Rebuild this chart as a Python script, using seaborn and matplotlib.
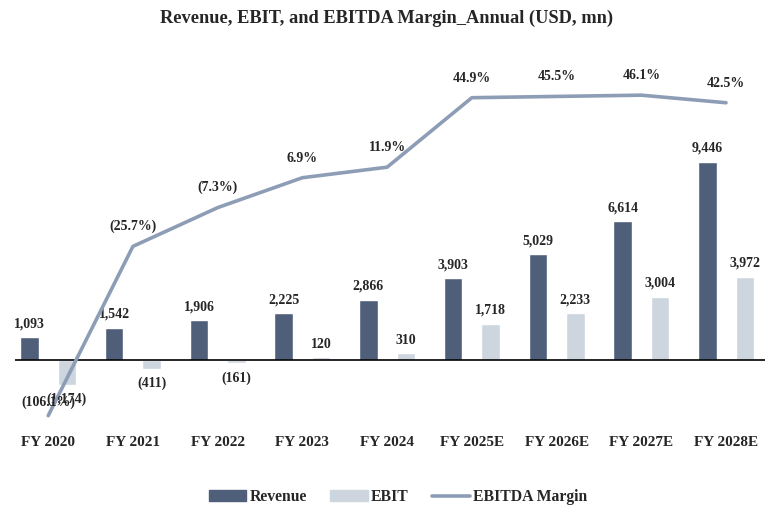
import matplotlib
matplotlib.use("Agg")
import matplotlib.pyplot as plt
import seaborn as sns
import pandas as pd
import numpy as np
from matplotlib.patches import Patch
from matplotlib.lines import Line2D

years = ["FY 2020", "FY 2021", "FY 2022", "FY 2023", "FY 2024",
         "FY 2025E", "FY 2026E", "FY 2027E", "FY 2028E"]
revenue = [1093, 1542, 1906, 2225, 2866, 3903, 5029, 6614, 9446]
ebit = [-1174, -411, -161, 120, 310, 1718, 2233, 3004, 3972]
ebitda_margin = [-106.1, -25.7, -7.3, 6.9, 11.9, 44.9, 45.5, 46.1, 42.5]

c_rev = "#4f5f79"
c_ebit = "#cdd5df"
c_line = "#8e9db6"

sns.set_theme(style="white")
plt.rcParams['font.family'] = ['Liberation Serif', 'DejaVu Serif']
plt.rcParams['font.weight'] = 'bold'

df = pd.DataFrame({
    "Year": years * 2,
    "Metric": ["Revenue"] * len(years) + ["EBIT"] * len(years),
    "Value": revenue + ebit,
})

fig = plt.figure(figsize=(7.73, 5.13), dpi=100)
W, H = 773, 513
ax = fig.add_axes([15 / W, 1 - 430 / H, 750 / W, 370 / H])

OFF = 0.221
sns.barplot(data=df, x="Year", y="Value", hue="Metric", order=years,
            hue_order=["Revenue", "EBIT"], palette=[c_rev, c_ebit],
            width=4 * OFF, gap=0.507, ax=ax, legend=False, saturation=1)

XL = (-0.392, 8.46)
ax.set_xlim(*XL)
ax.set_ylim(-3335, 14292)
ax.axhline(0, color="black", lw=1.2, zorder=3)
for s in ax.spines.values():
    s.set_visible(False)
ax.set_yticks([])
ax.set_xlabel("")
ax.set_ylabel("")
ax.tick_params(axis="x", length=0, pad=4)
for lab in ax.get_xticklabels():
    lab.set_fontsize(11)
    lab.set_fontweight("bold")

def fmt(v):
    return f"{v:,.0f}" if v >= 0 else f"({-v:,.0f})"

FS = 10
for i, v in enumerate(revenue):
    ax.annotate(fmt(v), (i - OFF, v), xytext=(0, 5), textcoords="offset points",
                ha="center", va="bottom", fontsize=FS, fontweight="bold")
for i, v in enumerate(ebit):
    if v >= 0:
        ax.annotate(fmt(v), (i + OFF, v), xytext=(0, 5), textcoords="offset points",
                    ha="center", va="bottom", fontsize=FS, fontweight="bold")
    else:
        ax.annotate(fmt(v), (i + OFF, v), xytext=(0, -6), textcoords="offset points",
                    ha="center", va="top", fontsize=FS, fontweight="bold")

ax2 = ax.twinx()
mdf = pd.DataFrame({"Year": years, "Margin": ebitda_margin})
sns.pointplot(data=mdf, x="Year", y="Margin", order=years, color=c_line,
              markers="", linestyles="-", linewidth=2.6, ax=ax2)
ax2.set_xlim(*XL)
ax2.set_ylim(-112.9, 62.8)
for s in ax2.spines.values():
    s.set_visible(False)
ax2.set_yticks([])
ax2.set_ylabel("")
ax2.set_xlabel("")

def pfmt(v):
    return f"{v:.1f}%" if v >= 0 else f"({-v:.1f}%)"

for i, v in enumerate(ebitda_margin):
    off = 5 if i == 0 else 9.5
    ax2.annotate(pfmt(v), (i, v), xytext=(0, off), textcoords="offset points",
                 ha="center", va="bottom", fontsize=FS, fontweight="bold")

fig.text(0.5, 1 - 18 / H, "Revenue, EBIT, and EBITDA Margin_Annual (USD, mn)",
         ha="center", va="center", fontsize=13.2, fontweight="bold")

handles = [Patch(color=c_rev, label="Revenue"),
           Patch(color=c_ebit, label="EBIT"),
           Line2D([0], [0], color=c_line, lw=2.6, label="EBITDA Margin")]
fig.legend(handles=handles, loc="center", bbox_to_anchor=(0.515, 1 - 497 / H),
           ncol=3, frameon=False, fontsize=11.3, handlelength=2.4,
           handleheight=0.7, columnspacing=1.5, handletextpad=0.2)

fig.savefig("out.png", dpi=100)
